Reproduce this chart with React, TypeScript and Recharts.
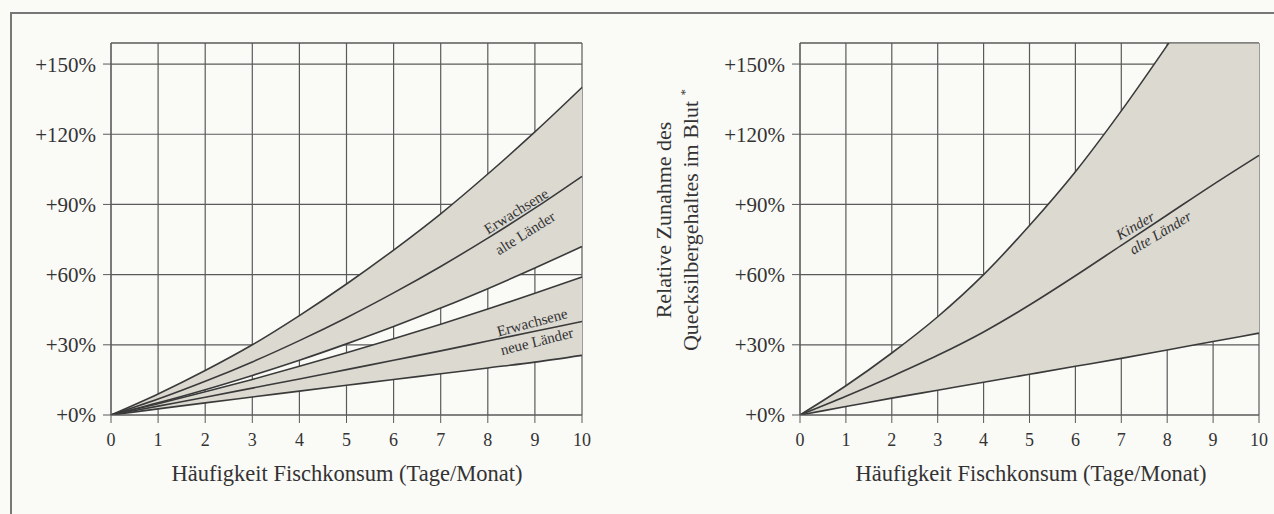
import React from 'react';
import {
  Area,
  CartesianGrid,
  ComposedChart,
  Line,
  ReferenceDot,
  ReferenceLine,
  XAxis,
  YAxis,
} from 'recharts';

// days of fish consumption per month
const days = [0, 1, 2, 3, 4, 5, 6, 7, 8, 9, 10];

// Erwachsene, alte Länder (band + middle line)
const adultOldHigh = [0, 9, 19, 30, 42.5, 56, 70.5, 86, 103, 121, 140];
const adultOldMid = [0, 6.8, 14.4, 22.7, 31.8, 41.6, 52.2, 63.5, 75.6, 88.4, 102];
const adultOldLow = [0, 5.2, 10.8, 16.9, 23.4, 30.4, 37.8, 45.7, 54, 62.8, 72];

// Erwachsene, neue Länder
const adultNewHigh = [0, 4.8, 9.9, 15.2, 20.8, 26.6, 32.6, 38.8, 45.3, 52, 59];
const adultNewMid = [0, 3.8, 7.6, 11.5, 15.4, 19.4, 23.4, 27.4, 31.6, 35.8, 40];
const adultNewLow = [0, 2.6, 5.2, 7.7, 10.2, 12.7, 15.2, 17.6, 20.1, 22.6, 25.5];

// Kinder, alte Länder
const childHigh = [0, 12.5, 26.5, 42, 60, 81, 104, 130, 158, 187, 218];
const childMid = [0, 8, 16.5, 25.5, 35.5, 47, 59.5, 72.5, 85.5, 98.5, 111];
const childLow = [0, 3.6, 7.2, 10.6, 14, 17.4, 20.8, 24.2, 27.8, 31.4, 35];

const yTicks = [0, 30, 60, 90, 120, 150];
const minorTicks = [0, 5, 10, 15, 20, 25, 30, 35, 40, 45, 50, 55, 60, 65, 70, 75, 80, 85, 90, 95, 100, 105, 110, 115, 120, 125, 130, 135, 140, 145, 150, 155];
const yMax = 159;

const xTitle = 'Häufigkeit Fischkonsum (Tage/Monat)';

const FONT = '"Liberation Serif", "DejaVu Serif", serif';
const INK = '#333';
const LINE = '#3a3a3a';
const GRID = '#5a5a5a';
const SHADE = '#dcd9d1';

const leftData = days.map((d, i) => ({
  x: d,
  oHi: adultOldHigh[i],
  oMid: adultOldMid[i],
  oLo: adultOldLow[i],
  nHi: adultNewHigh[i],
  nMid: adultNewMid[i],
  nLo: adultNewLow[i],
}));

const rightData = days.map((d, i) => ({
  x: d,
  hi: childHigh[i],
  mid: childMid[i],
  lo: childLow[i],
}));

const bandText =
  (text: string, angle: number, italic = false) =>
  (props: any) => {
    const vb = props.viewBox || {};
    const cx = (vb.x || 0) + (vb.width || 0) / 2;
    const cy = (vb.y || 0) + (vb.height || 0) / 2;
    return (
      <text
        x={cx}
        y={cy}
        dy="0.35em"
        textAnchor="middle"
        fontFamily={FONT}
        fontSize={15}
        fontStyle={italic ? 'italic' : 'normal'}
        fill={INK}
        transform={`rotate(${-angle} ${cx} ${cy})`}
      >
        {text}
      </text>
    );
  };

const axes = (yWidth: number) => [
  <XAxis
    key="x"
    type="number"
    dataKey="x"
    domain={[0, 10]}
    ticks={days}
    height={30}
    tickSize={8}
    tickMargin={10}
    stroke={GRID}
    tick={{ fontSize: 18, fill: INK, fontFamily: FONT }}
  />,
  <YAxis
    key="minor"
    yAxisId="minor"
    width={0}
    domain={[0, yMax]}
    ticks={minorTicks}
    allowDataOverflow
    axisLine={false}
    tickSize={3}
    stroke={GRID}
    tick={() => <g />}
  />,
  <YAxis
    key="y"
    width={yWidth}
    domain={[0, yMax]}
    ticks={yTicks}
    allowDataOverflow
    tickSize={8}
    tickMargin={7}
    stroke={GRID}
    tickFormatter={(v) => `+${v}%`}
    tick={{ fontSize: 21, fill: INK, fontFamily: FONT }}
  />,
];

const series = (key: string) => (
  <Line
    key={key}
    type="monotone"
    dataKey={key}
    stroke={LINE}
    strokeWidth={1.6}
    dot={false}
    isAnimationActive={false}
  />
);

const band = (lo: string, hi: string) => (
  <Area
    key={lo + hi}
    type="monotone"
    dataKey={(d: any) => [d[lo], d[hi]]}
    stroke="none"
    fill={SHADE}
    fillOpacity={1}
    isAnimationActive={false}
  />
);

const LeftChart = () => (
  <ComposedChart width={640} height={514} data={leftData} margin={{ top: 43, right: 58, bottom: 69, left: 0 }}>
    <CartesianGrid stroke={GRID} strokeWidth={1.2} />
    {axes(111)}
    <ReferenceLine y={yMax} stroke={GRID} strokeWidth={1.2} />
    {band('oLo', 'oHi')}
    {band('nLo', 'nHi')}
    {['oHi', 'oMid', 'oLo', 'nHi', 'nMid', 'nLo'].map(series)}
    <ReferenceDot x={8.6} y={87.2} r={0} fill="none" stroke="none" label={bandText('Erwachsene', 32)} />
    <ReferenceDot x={8.79} y={77.8} r={0} fill="none" stroke="none" label={bandText('alte Länder', 32)} />
    <ReferenceDot x={8.94} y={39.7} r={0} fill="none" stroke="none" label={bandText('Erwachsene', 15)} />
    <ReferenceDot x={9.04} y={31.6} r={0} fill="none" stroke="none" label={bandText('neue Länder', 14)} />
  </ComposedChart>
);

const RightChart = () => (
  <ComposedChart width={634} height={514} data={rightData} margin={{ top: 43, right: 15, bottom: 69, left: 0 }}>
    <CartesianGrid stroke={GRID} strokeWidth={1.2} />
    {axes(160)}
    <ReferenceLine y={yMax} stroke={GRID} strokeWidth={1.2} />
    {band('lo', 'hi')}
    {['hi', 'mid', 'lo'].map(series)}
    <ReferenceDot x={7.3} y={81} r={0} fill="none" stroke="none" label={bandText('Kinder', 30, true)} />
    <ReferenceDot x={7.85} y={78} r={0} fill="none" stroke="none" label={bandText('alte Länder', 31, true)} />
  </ComposedChart>
);

const titleStyle: React.CSSProperties = {
  position: 'absolute',
  top: 461,
  transform: 'translateX(-50%)',
  whiteSpace: 'nowrap',
  fontFamily: FONT,
  fontSize: 22.5,
  color: INK,
};

export default function App() {
  return (
    <div
      style={{
        position: 'absolute',
        left: 0,
        top: 0,
        width: 1274,
        height: 514,
        background: '#fafaf7',
        overflow: 'hidden',
      }}
    >
      {/* frame of the scanned figure */}
      <div
        style={{
          position: 'absolute',
          left: 10,
          top: 12,
          right: -4,
          bottom: -4,
          borderTop: '2px solid #777',
          borderLeft: '2px solid #777',
        }}
      />
      <div style={{ position: 'absolute', left: 0, top: 0 }}>
        <LeftChart />
      </div>
      <div style={{ position: 'absolute', left: 640, top: 0 }}>
        <RightChart />
      </div>
      <div style={{ ...titleStyle, left: 347 }}>{xTitle}</div>
      <div style={{ ...titleStyle, left: 1031 }}>{xTitle}</div>
      <div
        style={{
          position: 'absolute',
          left: 677,
          top: 220,
          transform: 'translate(-50%, -50%) rotate(-90deg)',
          whiteSpace: 'nowrap',
          textAlign: 'center',
          fontFamily: FONT,
          fontSize: 22,
          lineHeight: '21px',
          color: INK,
        }}
      >
        Relative Zunahme des
        <br />
        Quecksilbergehaltes im Blut <sup style={{ fontSize: 13 }}>*</sup>
      </div>
    </div>
  );
}
